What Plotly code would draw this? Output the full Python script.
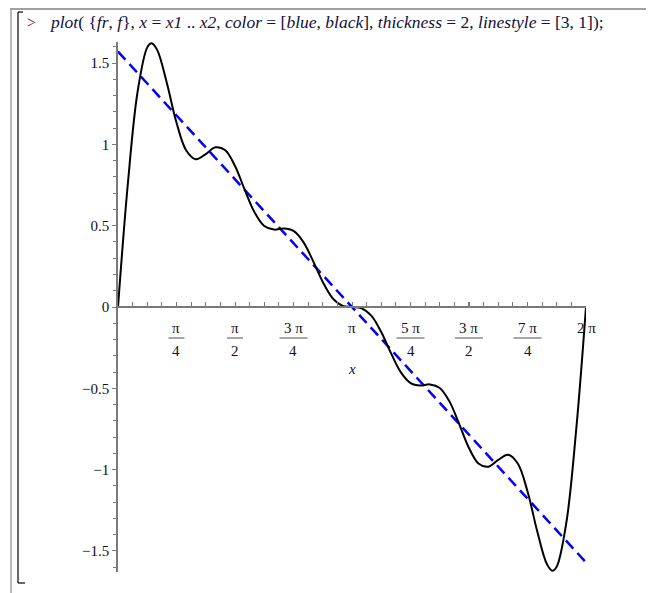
import plotly.graph_objects as go

# ---- data ----
x_f = [0, 0.131, 0.262, 0.393, 0.449, 0.524, 0.654, 0.785, 0.916, 1.047, 1.178, 1.309, 1.440,
       1.571, 1.702, 1.833, 1.963, 2.094, 2.225, 2.356, 2.487, 2.618, 2.749, 2.880,
       3.011, 3.142, 3.272, 3.403, 3.534, 3.665, 3.796, 3.927, 4.058, 4.189, 4.320,
       4.451, 4.581, 4.712, 4.843, 4.974, 5.105, 5.236, 5.367, 5.498, 5.629, 5.760,
       5.834, 5.890, 6.021, 6.152, 6.283]
y_f = [0, 0.752, 1.321, 1.597, 1.622, 1.583, 1.381, 1.135, 0.963, 0.909, 0.941, 0.982, 0.964,
       0.867, 0.720, 0.582, 0.498, 0.476, 0.483, 0.468, 0.401, 0.284, 0.154, 0.055,
       0.008, 0, -0.008, -0.055, -0.154, -0.284, -0.401, -0.468, -0.483, -0.476, -0.498,
       -0.582, -0.720, -0.867, -0.964, -0.982, -0.941, -0.909, -0.963, -1.135, -1.381, -1.583,
       -1.622, -1.597, -1.321, -0.752, 0]
x_fr = [0, 6.283]
y_fr = [1.571, -1.571]

x_tick_vals = [0.785, 1.571, 2.356, 3.142, 3.927, 4.712, 5.498, 6.283]
x_tick_num = ["π", "π", "3 π", "π", "5 π", "3 π", "7 π", "2 π"]
x_tick_den = ["4", "2", "4", "", "4", "2", "4", ""]
y_tick_vals = [-1.5, -1, -0.5, 0, 0.5, 1, 1.5]
y_tick_text = ["−1.5", "−1", "−0.5", "0", "0.5", "1", "1.5"]

header_prompt = ">"
header_cmd = ("<i>plot</i>( {<i>fr</i>, <i>f</i>}, <i>x</i> = <i>x1</i> .. <i>x2</i>, "
              "<i>color</i> = [<i>blue</i>, <i>black</i>], <i>thickness</i> = 2, "
              "<i>linestyle</i> = [3, 1]);")

# ---- layout geometry (page is offset by the 8px body margin) ----
OFF = 8
W, H = 654 - OFF, 593 - OFF
L, R, T, B = 118 - OFF, 68, 42 - OFF, 21
PW, PH = W - L - R, H - T - B
def px(xp):  # page pixel -> paper
    return (xp - OFF - L) / PW
def py(yp):
    return (H - B - (yp - OFF)) / PH

SERIF = "Liberation Serif"
TXT = "#111122"
AX = "#7a7a7a"

fig = go.Figure()
fig.add_trace(go.Scatter(x=x_fr, y=y_fr, mode="lines",
                         line=dict(color="#0000ff", width=2.5, dash="11px,6px"),
                         hoverinfo="skip", showlegend=False))
fig.add_trace(go.Scatter(x=x_f, y=y_f, mode="lines",
                         line=dict(color="#000000", width=2, shape="spline", smoothing=1),
                         hoverinfo="skip", showlegend=False))

fig.update_layout(
    width=W, height=H,
    margin=dict(l=L, r=R, t=T, b=B),
    paper_bgcolor="white", plot_bgcolor="white",
    showlegend=False,
    font=dict(family=SERIF, size=15, color=TXT),
    xaxis=dict(range=[0, 6.283], anchor="free", position=0.5,
               showgrid=False, zeroline=False, showline=True,
               linecolor=AX, linewidth=1.5,
               tickmode="array", tickvals=x_tick_vals, ticks="inside",
               ticklen=4, tickcolor=AX, tickwidth=1.2,
               showticklabels=False,
               minor=dict(dtick=0.19635, tick0=0, ticks="inside", ticklen=4,
                          tickcolor=AX, tickwidth=1.2, showgrid=False)),
    yaxis=dict(range=[-1.63, 1.63],
               showgrid=False, zeroline=False, showline=True,
               linecolor=AX, linewidth=1.5,
               tickmode="array", tickvals=y_tick_vals, ticktext=y_tick_text,
               ticks="outside", ticklen=4, tickcolor=AX, tickwidth=1.2,
               tickfont=dict(family=SERIF, size=15, color=TXT),
               minor=dict(dtick=0.1, tick0=0, ticks="outside", ticklen=3,
                          tickcolor=AX, tickwidth=1.2, showgrid=False)),
)

annotations = []
shapes = []
for xv, num, den in zip(x_tick_vals, x_tick_num, x_tick_den):
    annotations.append(dict(x=xv, y=0, xref="x", yref="y", text=num, showarrow=False,
                            yshift=-21, font=dict(family=SERIF, size=15, color=TXT)))
    if den:
        annotations.append(dict(x=xv, y=0, xref="x", yref="y", text=den, showarrow=False,
                                yshift=-44, font=dict(family=SERIF, size=15, color=TXT)))
        half = 8 if len(num) == 1 else 14
        shapes.append(dict(type="line", xref="x", yref="y", xsizemode="pixel", ysizemode="pixel",
                           xanchor=xv, yanchor=0, x0=-half, x1=half, y0=-31, y1=-31,
                           line=dict(color="#8a8a8a", width=1.5)))

# axis title
annotations.append(dict(x=3.142, y=0, xref="x", yref="y", text="<i>x</i>", showarrow=False,
                        yshift=-62, font=dict(family=SERIF, size=15, color=TXT)))

# header line
annotations.append(dict(x=px(25), y=py(22), xref="paper", yref="paper", text=header_prompt,
                        showarrow=False, xanchor="left", yanchor="middle",
                        font=dict(family=SERIF, size=16, color="#9a1010")))
annotations.append(dict(x=px(47), y=py(22), xref="paper", yref="paper", text=header_cmd,
                        showarrow=False, xanchor="left", yanchor="middle",
                        font=dict(family=SERIF, size=17.5, color="#10103a")))

# worksheet frame
shapes.append(dict(type="line", xref="paper", yref="paper", x0=px(10), x1=px(654),
                   y0=py(9), y1=py(9), line=dict(color="#a0a0a0", width=2)))
shapes.append(dict(type="line", xref="paper", yref="paper", x0=px(11), x1=px(11),
                   y0=py(9), y1=py(593), line=dict(color="#a0a0a0", width=1.5)))
shapes.append(dict(type="line", xref="paper", yref="paper", x0=px(18), x1=px(18),
                   y0=py(12), y1=py(583), line=dict(color="#000000", width=1.2)))
shapes.append(dict(type="line", xref="paper", yref="paper", x0=px(18), x1=px(23),
                   y0=py(12), y1=py(12), line=dict(color="#000000", width=1.2)))
shapes.append(dict(type="line", xref="paper", yref="paper", x0=px(18), x1=px(25),
                   y0=py(583), y1=py(583), line=dict(color="#000000", width=1.2)))

fig.update_layout(annotations=annotations, shapes=shapes)
fig.write_html("out.html")
